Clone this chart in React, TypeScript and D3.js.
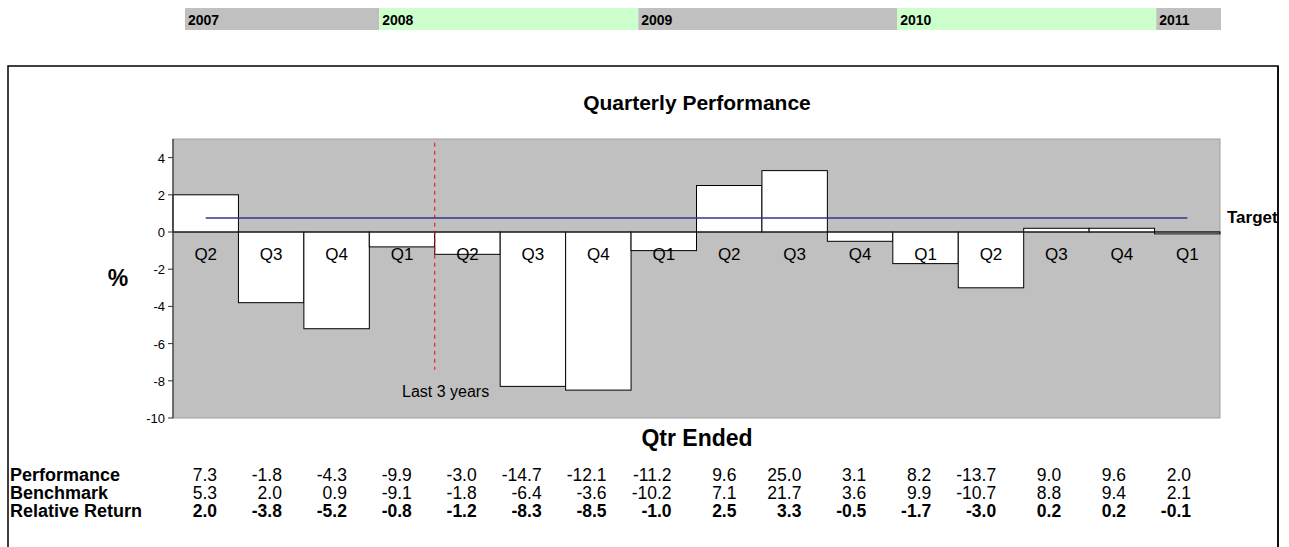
import React from "react";
import * as d3 from "d3";

const quarters = ["Q2","Q3","Q4","Q1","Q2","Q3","Q4","Q1","Q2","Q3","Q4","Q1","Q2","Q3","Q4","Q1"];
const years = ["2007","2008","2009","2010","2011"];
const yearQuarterCounts = [3, 4, 4, 4, 1];
const relativeReturn = [2.0,-3.8,-5.2,-0.8,-1.2,-8.3,-8.5,-1.0,2.5,3.3,-0.5,-1.7,-3.0,0.2,0.2,-0.1];
const performance = [7.3,-1.8,-4.3,-9.9,-3.0,-14.7,-12.1,-11.2,9.6,25.0,3.1,8.2,-13.7,9.0,9.6,2.0];
const benchmark = [5.3,2.0,0.9,-9.1,-1.8,-6.4,-3.6,-10.2,7.1,21.7,3.6,9.9,-10.7,8.8,9.4,2.1];
const target = 0.75;
const yTicks = [4, 2, 0, -2, -4, -6, -8, -10];
const last3YearsIndex = 4;

const W = 1289, H = 547;
const FONT = "'Liberation Sans', Arial, Helvetica, sans-serif";

export default function App() {
  const idx = quarters.map((_, i) => i);
  const x = d3.scaleBand<number>().domain(idx).range([173, 1220]).padding(0);
  const y = d3.scaleLinear().domain([-10, 5]).range([418, 139]);
  const bandX = d3.scaleLinear().domain([0, quarters.length]).range([185, 1221]);
  const tableX = d3.scaleLinear().domain([0, quarters.length - 1]).range([217, 1191]);

  let acc = 0;
  const yearBands = years.map((yr, i) => {
    const start = acc;
    acc += yearQuarterCounts[i];
    return { yr, start, end: acc, green: i % 2 === 1 };
  });

  const fmt = (v: number) => v.toFixed(1);
  const bw = x.bandwidth();
  const dashX = x(last3YearsIndex)!;

  const rows = [
    { label: "Performance", vals: performance, bold: false, yy: 481 },
    { label: "Benchmark", vals: benchmark, bold: false, yy: 499 },
    { label: "Relative Return", vals: relativeReturn, bold: true, yy: 517 },
  ];

  return (
    <svg width={W} height={H} style={{ position: "absolute", left: 0, top: 0, background: "#fff" }} fontFamily={FONT}>
      {/* year band */}
      {yearBands.map((b) => (
        <g key={b.yr}>
          <rect x={bandX(b.start)} y={8} width={bandX(b.end) - bandX(b.start)} height={22} fill={b.green ? "#ccffcc" : "#c0c0c0"} />
          <text x={bandX(b.start) + 3} y={25} fontSize={14} fontWeight="bold" fill="#000">{b.yr}</text>
        </g>
      ))}

      {/* chart frame */}
      <rect x={8} y={66} width={1270} height={500} fill="#fff" stroke="#000" strokeWidth={1.5} />

      <text x={697} y={110} fontSize={21} fontWeight="bold" textAnchor="middle">Quarterly Performance</text>

      {/* plot area */}
      <rect x={173} y={139} width={1220 - 173} height={418 - 139} fill="#c0c0c0" stroke="#a0a0a0" strokeWidth={1} />

      {/* bars */}
      {relativeReturn.map((v, i) => (
        <rect key={i} x={x(i)} y={y(Math.max(0, v))} width={bw} height={Math.max(1, Math.abs(y(v) - y(0)))} fill="#fff" stroke="#000" strokeWidth={1} />
      ))}

      {/* zero axis */}
      <line x1={173} x2={1220} y1={y(0)} y2={y(0)} stroke="#222" strokeWidth={1.2} />

      {/* target line */}
      <line x1={x(0)! + bw / 2} x2={x(quarters.length - 1)! + bw / 2} y1={y(target)} y2={y(target)} stroke="#333399" strokeWidth={1.5} />

      {/* quarter labels */}
      {quarters.map((q, i) => (
        <text key={i} x={x(i)! + bw / 2} y={260} fontSize={17} textAnchor="middle" fill="#000">{q}</text>
      ))}

      {/* last 3 years */}
      <line x1={dashX} x2={dashX} y1={y(4.8)} y2={y(-7.4)} stroke="#ff0000" strokeWidth={1} strokeDasharray="4,4" />
      <text x={402} y={397} fontSize={16}>Last 3 years</text>

      {/* y axis */}
      <line x1={173} x2={173} y1={139} y2={418} stroke="#333" strokeWidth={1.2} />
      {yTicks.map((t) => (
        <g key={t}>
          <line x1={168} x2={173} y1={y(t)} y2={y(t)} stroke="#333" />
          <text x={165} y={y(t) + 5} fontSize={13} textAnchor="end">{t}</text>
        </g>
      ))}
      <text x={118} y={286} fontSize={23} fontWeight="bold" textAnchor="middle">%</text>

      <text x={697} y={446} fontSize={23} fontWeight="bold" textAnchor="middle">Qtr Ended</text>

      {/* table */}
      {rows.map((r) => (
        <g key={r.label}>
          <text x={10} y={r.yy} fontSize={18} fontWeight="bold">{r.label}</text>
          {r.vals.map((v, i) => (
            <text key={i} x={tableX(i)} y={r.yy} fontSize={17.5} textAnchor="end" fontWeight={r.bold ? "bold" : "normal"}>{fmt(v)}</text>
          ))}
        </g>
      ))}

      <text x={1227} y={223} fontSize={17} fontWeight="bold">Target</text>
      <line x1={1278} x2={1278} y1={66} y2={566} stroke="#000" strokeWidth={1.5} />
      <rect x={1279} y={66} width={10} height={481} fill="#fff" />
    </svg>
  );
}
